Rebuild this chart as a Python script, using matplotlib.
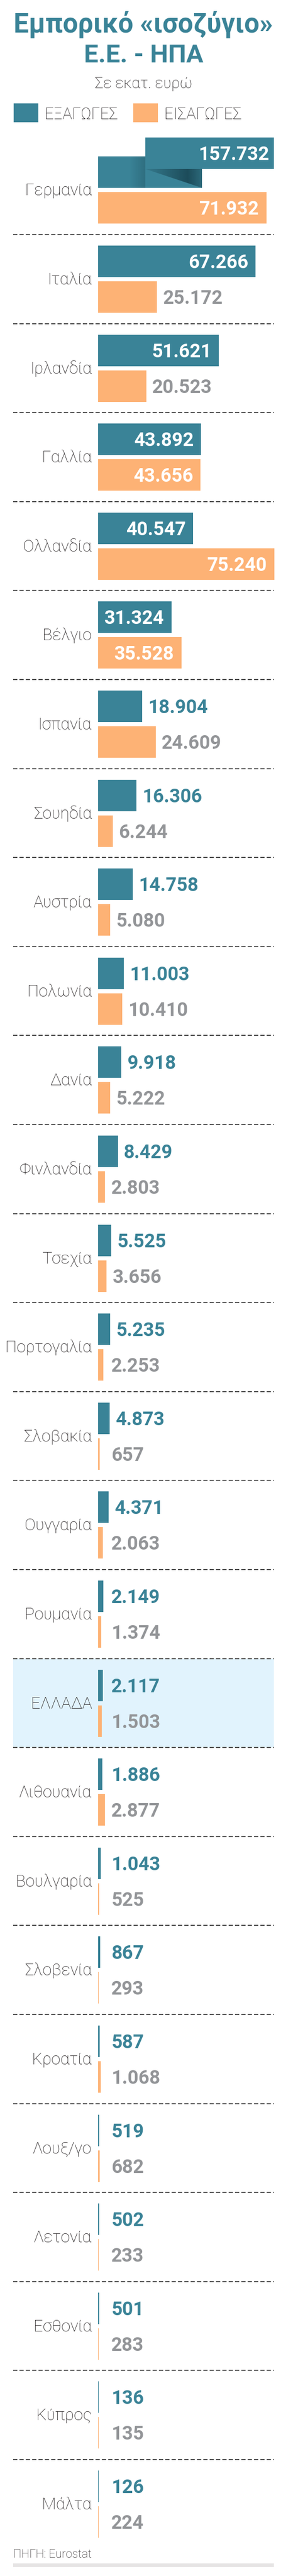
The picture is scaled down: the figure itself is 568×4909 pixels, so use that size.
import numpy as np
import matplotlib
matplotlib.use("Agg")
import matplotlib.pyplot as plt
from matplotlib.patches import Rectangle, Polygon
from matplotlib.colors import to_rgb

# data (εκατ. ευρώ)
countries = ["Γερμανία", "Ιταλία", "Ιρλανδία", "Γαλλία", "Ολλανδία", "Βέλγιο",
             "Ισπανία", "Σουηδία", "Αυστρία", "Πολωνία", "Δανία", "Φινλανδία",
             "Τσεχία", "Πορτογαλία", "Σλοβακία", "Ουγγαρία", "Ρουμανία", "ΕΛΛΑΔΑ",
             "Λιθουανία", "Βουλγαρία", "Σλοβενία", "Κροατία", "Λουξ/γο", "Λετονία",
             "Εσθονία", "Κύπρος", "Μάλτα"]
exports = [157732, 67266, 51621, 43892, 40547, 31324, 18904, 16306, 14758, 11003,
           9918, 8429, 5525, 5235, 4873, 4371, 2149, 2117, 1886, 1043, 867, 587,
           519, 502, 501, 136, 126]
imports = [71932, 25172, 20523, 43656, 75240, 35528, 24609, 6244, 5080, 10410,
           5222, 2803, 3656, 2253, 657, 2063, 1374, 1503, 2877, 525, 293, 1068,
           682, 233, 283, 135, 224]
highlight = "ΕΛΛΑΔΑ"
legend_labels = ["ΕΞΑΓΩΓΕΣ", "ΕΙΣΑΓΩΓΕΣ"]

TEAL = "#3a8397"
ORANGE = "#fdb275"
GRAY_TXT = "#939598"
DARK = "#1b4957"
INK = "#231f20"

W, H = 568, 4909
plt.rcParams["font.family"] = ["Roboto", "DejaVu Sans"]
plt.rcParams["lines.scale_dashes"] = False

fig = plt.figure(figsize=(W / 100, H / 100), dpi=100)
page = fig.add_axes([0, 0, 1, 1])
page.axis("off")

# layout (pixels)
LEFT, RIGHT = 25, 522
BAR_X0, BAR_W = 187, 336
ROW0, ROW_H = 277.4, 169.6
XMAX = 75300
PX = XMAX / BAR_W  # data units per pixel

ax = fig.add_axes([BAR_X0 / W, 0, BAR_W / W, 1], zorder=2)
ax.axis("off")
ax.patch.set_alpha(0)

# title block
page.text(273.5, 62, "Εμπορικό «ισοζύγιο»", ha="center", va="baseline",
          fontsize=37, fontweight="bold", color=TEAL)
page.text(273.5, 119, "Ε.Ε. - ΗΠΑ", ha="center", va="baseline",
          fontsize=35, fontweight="bold", color=TEAL)
page.text(273.5, 168, "Σε εκατ. ευρώ", ha="center", va="baseline",
          fontsize=21, fontweight="light", color=INK)

for (x, lbl, c) in [(26, legend_labels[0], TEAL), (254, legend_labels[1], ORANGE)]:
    page.add_patch(Rectangle((x, 197), 47, 36, color=c, lw=0))
    page.text(x + 59, 227, lbl, va="baseline", fontsize=22,
              fontweight="light", color=INK)

n = len(countries)
exp_v = np.array(exports)
imp_v = np.array(imports)
tops = ROW0 + ROW_H * np.arange(n)
exp_y = tops + 51
imp_y = tops + 119

# highlighted row + separators
for i, name in enumerate(countries):
    if name == highlight:
        page.add_patch(Rectangle((LEFT, tops[i]), RIGHT - LEFT, ROW_H,
                                 color="#e1f3fd", lw=0, zorder=0))
page.hlines(tops[1:], LEFT, RIGHT, colors="#4a4a4a", linewidth=1.4,
            linestyles=(0, (5.8, 2.9)), zorder=1)

for i, name in enumerate(countries):
    page.text(175, tops[i] + 95, name, ha="right", va="baseline",
              fontsize=22.5, fontweight="light", color=INK)

# bars
ax.barh(imp_y, imp_v, height=60, color=ORANGE, lw=0)
normal = exp_v <= XMAX
ax.barh(exp_y[normal], exp_v[normal], height=60, color=TEAL, lw=0)

LOW_END, UP_START, UP_END, LIFT = 0.588 * XMAX, 0.269 * XMAX, 0.997 * XMAX, 36.4
for i in np.where(~normal)[0]:
    y = exp_y[i]
    ax.barh(y, LOW_END, height=60, color=TEAL, lw=0)
    y_up_bot, y_low_bot = y - LIFT + 30, y + 30
    # fold shadow
    t = np.linspace(0, 1, 200)
    a = np.interp(t, [0, 0.75, 1], [0.15, 0.95, 0.45])
    rgba = np.zeros((1, 200, 4))
    rgba[..., :3] = to_rgb(DARK)
    rgba[..., 3] = a
    tri = Polygon([(UP_START, y_up_bot), (LOW_END, y_up_bot), (LOW_END, y_low_bot)],
                  closed=True, transform=ax.transData)
    im = ax.imshow(rgba, extent=[UP_START, LOW_END, y_low_bot, y_up_bot],
                   aspect="auto", zorder=3, interpolation="bilinear")
    im.set_clip_path(tri)
    rgba2 = np.zeros((1, 100, 4))
    rgba2[..., :3] = to_rgb(DARK)
    rgba2[..., 3] = np.linspace(0, 0.35, 100)
    ax.imshow(rgba2, extent=[UP_START - 30 * PX, UP_START, y_low_bot, y - 30],
              aspect="auto", zorder=3, interpolation="bilinear")
    ax.barh(y - LIFT, UP_END - UP_START, left=UP_START, height=60,
            color=TEAL, lw=0, zorder=4)


def fmt(v):
    return f"{v:,}".replace(",", ".")


INSIDE_MIN = 28000
MIN_X = 14 * PX
for vals, ys, col in [(exp_v, exp_y, TEAL), (imp_v, imp_y, GRAY_TXT)]:
    for v, y in zip(vals, ys):
        if v > XMAX:
            ax.annotate(fmt(v), (UP_END, y - LIFT + 13), xytext=(-6.5, 0),
                        textcoords="offset points", ha="right", va="baseline",
                        fontsize=26, fontweight="bold", color="white", zorder=5)
        elif v >= INSIDE_MIN:
            ax.annotate(fmt(v), (v, y + 13), xytext=(-10, 0),
                        textcoords="offset points", ha="right", va="baseline",
                        fontsize=26, fontweight="bold", color="white", zorder=5)
        else:
            ax.annotate(fmt(v), (max(v, MIN_X), y + 13), xytext=(8, 0),
                        textcoords="offset points", ha="left", va="baseline",
                        fontsize=26, fontweight="bold", color=col, zorder=5)

# source
page.text(LEFT, 4874, "ΠΗΓΗ: Eurostat", va="baseline", fontsize=16,
          fontweight="light", color=INK)
page.add_patch(Rectangle((LEFT, 4885), RIGHT - LEFT, 7, color="#e6e4e4", lw=0))

page.set_xlim(0, W)
page.set_ylim(H, 0)
ax.set_xlim(0, XMAX)
ax.set_ylim(H, 0)

fig.savefig("out.png", dpi=100)
